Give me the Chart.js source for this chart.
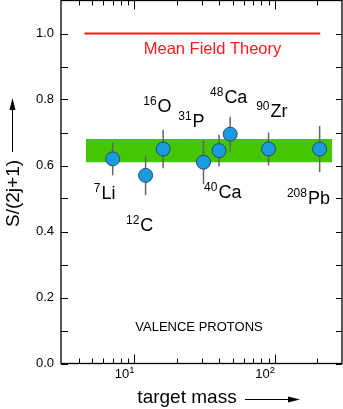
<!DOCTYPE html>
<html>
<head>
<meta charset="utf-8">
<script src="https://cdn.jsdelivr.net/npm/chart.js@4"></script>
<style>
  html, body { margin: 0; padding: 0; background: #fff; }
  #wrap { width: 343px; height: 409px; position: relative; }
</style>
</head>
<body>
<div id="wrap"><canvas id="chart"></canvas></div>
<script>
// data
const masses = [7, 12, 16, 31, 40, 48, 90, 208];
const ratios = [0.62, 0.57, 0.65, 0.61, 0.645, 0.695, 0.65, 0.65];
const errors = [0.05, 0.06, 0.058, 0.066, 0.048, 0.053, 0.05, 0.07];

// nucleus labels: superscript, symbol, target mass at label's left edge, value at baseline
const labelSup = ['7', '12', '16', '31', '48', '90', '40', '208'];
const labelSym = ['Li', 'C', 'O', 'P', 'Ca', 'Zr', 'Ca', 'Pb'];
const labelX = [5.14, 8.7, 11.55, 20.5, 34.5, 73.5, 31.3, 121.6];
const labelY = [0.5, 0.401, 0.762, 0.718, 0.79, 0.748, 0.501, 0.483];

const bandX = [4.5, 255];
const bandLow = 0.61;
const bandHigh = 0.68;

const theoryX = [4.4, 210];
const theoryY = 1.0;

const yMajor = [0, 0.2, 0.4, 0.6, 0.8, 1.0];
const yMinor = [0.1, 0.3, 0.5, 0.7, 0.9];
const xMajor = [10, 100];
const xMinor = [4, 5, 6, 7, 8, 9, 20, 30, 40, 50, 60, 70, 80, 90, 200];

const FONT = '"Liberation Sans", Arial, Helvetica, sans-serif';

function drawIsotope(ctx, sup, sym, x, y) {
    ctx.font = '12px ' + FONT;
    ctx.textAlign = 'left';
    ctx.textBaseline = 'alphabetic';
    ctx.fillText(sup, x, y - 7);
    const w = ctx.measureText(sup).width;
    ctx.font = '18px ' + FONT;
    ctx.fillText(sym, x + w + 1, y);
}

const decorPlugin = {
    id: 'decor',
    beforeDatasetDraw(chart, args) {
        // error bars go under the markers
        if (args.index !== 3) return;
        const ctx = chart.ctx;
        const xs = chart.scales.x, ys = chart.scales.y;
        ctx.save();
        ctx.strokeStyle = '#666';
        ctx.lineWidth = 1.5;
        masses.forEach((m, i) => {
            const px = xs.getPixelForValue(m);
            ctx.beginPath();
            ctx.moveTo(px, ys.getPixelForValue(ratios[i] + errors[i]));
            ctx.lineTo(px, ys.getPixelForValue(ratios[i] - errors[i]));
            ctx.stroke();
        });
        ctx.restore();
    },
    afterDraw(chart) {
        const ctx = chart.ctx;
        const a = chart.chartArea;
        const xs = chart.scales.x, ys = chart.scales.y;
        ctx.save();

        // frame
        ctx.strokeStyle = '#000';
        ctx.lineWidth = 1.3;
        ctx.strokeRect(a.left, a.top, a.right - a.left, a.bottom - a.top);

        // ticks, all pointing inward
        ctx.lineWidth = 1;
        ctx.beginPath();
        yMajor.concat(yMinor).forEach(v => {
            const py = Math.round(ys.getPixelForValue(v)) + 0.5;
            ctx.moveTo(a.left, py); ctx.lineTo(a.left + 7, py);
            ctx.moveTo(a.right, py); ctx.lineTo(a.right - 6, py);
        });
        xMajor.forEach(v => {
            const px = Math.round(xs.getPixelForValue(v)) + 0.5;
            ctx.moveTo(px, a.bottom); ctx.lineTo(px, a.bottom - 9);
            ctx.moveTo(px, a.top); ctx.lineTo(px, a.top + 9);
        });
        xMinor.forEach(v => {
            const px = Math.round(xs.getPixelForValue(v)) + 0.5;
            ctx.moveTo(px, a.bottom); ctx.lineTo(px, a.bottom - 5);
            ctx.moveTo(px, a.top); ctx.lineTo(px, a.top + 5);
        });
        ctx.stroke();

        // y tick labels
        ctx.fillStyle = '#000';
        ctx.font = '13px ' + FONT;
        ctx.textAlign = 'right';
        ctx.textBaseline = 'middle';
        yMajor.forEach(v => {
            ctx.fillText(v.toFixed(1), a.left - 7, ys.getPixelForValue(v));
        });

        // x tick labels 10^1, 10^2
        xMajor.forEach((v, i) => {
            const px = xs.getPixelForValue(v);
            const exp = String(i + 1);
            ctx.font = '9.5px ' + FONT;
            const ew = ctx.measureText(exp).width;
            ctx.textAlign = 'left';
            ctx.textBaseline = 'alphabetic';
            ctx.fillText(exp, px - ew, a.bottom + 9.5);
            ctx.font = '13px ' + FONT;
            ctx.textAlign = 'right';
            ctx.fillText('10', px - ew, a.bottom + 14.5);
        });

        // axis titles with arrows
        ctx.font = '19px ' + FONT;
        ctx.textAlign = 'center';
        ctx.textBaseline = 'alphabetic';
        ctx.fillText('target mass', 187, 403);
        ctx.lineWidth = 1;
        ctx.beginPath();
        ctx.moveTo(245, 399.5); ctx.lineTo(290, 399.5);
        ctx.stroke();
        ctx.beginPath();
        ctx.moveTo(300, 399.5); ctx.lineTo(288, 396.5); ctx.lineTo(288, 402.5);
        ctx.closePath(); ctx.fill();

        ctx.save();
        ctx.translate(19, 193.5);
        ctx.rotate(-Math.PI / 2);
        ctx.fillText('S/(2j+1)', 0, 0);
        ctx.restore();
        ctx.beginPath();
        ctx.moveTo(12.5, 152); ctx.lineTo(12.5, 108);
        ctx.stroke();
        ctx.beginPath();
        ctx.moveTo(12.5, 98); ctx.lineTo(9.5, 110); ctx.lineTo(15.5, 110);
        ctx.closePath(); ctx.fill();

        // in-plot text
        ctx.fillStyle = '#ff1a1a';
        ctx.font = '16.5px ' + FONT;
        ctx.textAlign = 'center';
        ctx.fillText('Mean Field Theory', 212.5, 54);

        ctx.fillStyle = '#000';
        ctx.font = '13px ' + FONT;
        ctx.fillText('VALENCE PROTONS', 199, 331);

        labelSup.forEach((s, i) => {
            drawIsotope(ctx, s, labelSym[i], xs.getPixelForValue(labelX[i]), ys.getPixelForValue(labelY[i]));
        });

        ctx.restore();
    }
};

const ctx = document.getElementById('chart').getContext('2d');
new Chart(ctx, {
    type: 'scatter',
    data: {
        datasets: [{
            type: 'line',
            order: 3,
            data: bandX.map(x => ({ x: x, y: bandHigh })),
            borderWidth: 0,
            pointRadius: 0,
            backgroundColor: '#44c700',
            fill: '+1'
        }, {
            type: 'line',
            order: 3,
            data: bandX.map(x => ({ x: x, y: bandLow })),
            borderWidth: 0,
            pointRadius: 0,
            fill: false
        }, {
            type: 'line',
            order: 2,
            data: theoryX.map(x => ({ x: x, y: theoryY })),
            borderColor: '#ff1a1a',
            borderWidth: 2,
            pointRadius: 0,
            fill: false
        }, {
            order: 0,
            data: masses.map((m, i) => ({ x: m, y: ratios[i] })),
            backgroundColor: '#1a9be0',
            borderColor: '#2a4a66',
            borderWidth: 1,
            pointRadius: 7,
            pointHoverRadius: 7
        }]
    },
    options: {
        responsive: true,
        maintainAspectRatio: false,
        animation: false,
        events: [],
        layout: { autoPadding: false, padding: { top: 0.5, right: 1, left: 0, bottom: 0 } },
        plugins: {
            legend: { display: false },
            tooltip: { enabled: false }
        },
        scales: {
            x: {
                type: 'logarithmic',
                min: 3,
                max: 300,
                grid: { display: false },
                border: { display: false },
                ticks: { display: false },
                afterFit: function(scale) { scale.height = 45.5; }
            },
            y: {
                min: 0,
                max: 1.1,
                grid: { display: false },
                border: { display: false },
                ticks: { display: false },
                afterFit: function(scale) { scale.width = 61; }
            }
        }
    },
    plugins: [decorPlugin]
});
</script>
</body>
</html>
